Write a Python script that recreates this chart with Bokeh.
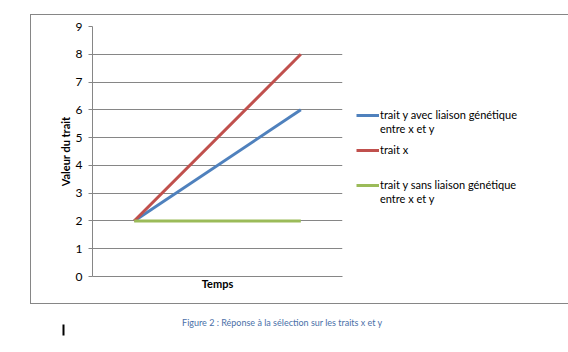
from bokeh.plotting import figure
from bokeh.models import (Range1d, FixedTicker, Legend, LegendItem, BoxAnnotation, Label, Spacer)
from bokeh.layouts import column, row
from bokeh.embed import file_html
from bokeh.resources import INLINE

# Data
temps = [1, 2]
trait_y_avec = [2, 6]
trait_x = [2, 8]
trait_y_sans = [2, 2]
y_ticks = [0, 1, 2, 3, 4, 5, 6, 7, 8, 9]
labels = ["trait y avec liaison génétique", "entre x et y", "trait x",
          "trait y sans liaison génétique", "entre x et y"]
colors = ["#4F81BD", "#C0504D", "#9BBB59"]
caption = "Figure 2 : Réponse à la sélection  sur les traits x et y"

FONT = "Lato"
GRAY = "#868686"

p = figure(frame_width=248, frame_height=248, output_backend="svg", toolbar_location=None,
           x_range=Range1d(0.75, 2.25), y_range=Range1d(0, 9),
           min_border_left=61, min_border_right=187, min_border_top=11, min_border_bottom=29,
           styles={"border": "1px solid " + GRAY})
p.outline_line_color = None
p.background_fill_color = "white"
p.border_fill_color = "white"

# Axes
p.xaxis.ticker = FixedTicker(ticks=[])
p.xaxis.major_label_text_font_size = "0px"
p.xaxis.axis_line_color = GRAY
p.xaxis.major_tick_line_color = None
p.xaxis.minor_tick_line_color = None
p.xaxis.axis_label = "Temps"
p.xaxis.axis_label_text_font = FONT
p.xaxis.axis_label_text_font_style = "bold"
p.xaxis.axis_label_text_font_size = "11px"
p.xaxis.axis_label_text_color = "#000000"
p.xaxis.axis_label_standoff = 0

p.yaxis.ticker = FixedTicker(ticks=y_ticks)
p.yaxis.axis_line_color = GRAY
p.yaxis.major_tick_line_color = GRAY
p.yaxis.major_tick_out = 4
p.yaxis.major_tick_in = 0
p.yaxis.minor_tick_line_color = None
p.yaxis.major_label_text_font = FONT
p.yaxis.major_label_text_font_size = "12px"
p.yaxis.major_label_text_color = "#000000"
p.yaxis.major_label_standoff = 6
p.yaxis.axis_label = "Valeur du trait"
p.yaxis.axis_label_text_font = FONT
p.yaxis.axis_label_text_font_style = "bold"
p.yaxis.axis_label_text_font_size = "11px"
p.yaxis.axis_label_text_color = "#000000"
p.yaxis.axis_label_standoff = 1

p.xgrid.grid_line_color = None
p.ygrid.grid_line_color = GRAY
p.ygrid.ticker = FixedTicker(ticks=y_ticks)

r1 = p.line(temps, trait_y_avec, line_color=colors[0], line_width=3)
r2 = p.line(temps, trait_x, line_color=colors[1], line_width=3)
r3 = p.line(temps, trait_y_sans, line_color=colors[2], line_width=3)
# invisible renderer used for continuation lines / gaps in the legend
blank = p.line([], [], line_alpha=0)

legend = Legend(items=[LegendItem(label=labels[0], renderers=[r1]),
                       LegendItem(label=labels[1], renderers=[blank]),
                       LegendItem(label="", renderers=[blank]),
                       LegendItem(label=labels[2], renderers=[r2]),
                       LegendItem(label="", renderers=[blank]),
                       LegendItem(label="", renderers=[blank]),
                       LegendItem(label="", renderers=[blank]),
                       LegendItem(label=labels[3], renderers=[r3]),
                       LegendItem(label=labels[4], renderers=[blank])],
                location=(14, 71))
legend.border_line_color = None
legend.background_fill_alpha = 0
legend.label_text_font = FONT
legend.label_text_font_size = "11px"
legend.label_text_color = "#000000"
legend.glyph_width = 23
legend.glyph_height = 6
legend.label_height = 6
legend.label_standoff = 1
legend.spacing = 1
legend.padding = 0
legend.margin = 0
p.add_layout(legend, "right")

# caption strip below the chart box
c = figure(width=568, height=48, output_backend="svg", toolbar_location=None,
           x_range=Range1d(0, 568), y_range=Range1d(0, 48),
           min_border=0, x_axis_type=None, y_axis_type=None)
c.outline_line_color = None
c.grid.visible = False
c.add_layout(BoxAnnotation(left=62, right=64, top=28, bottom=17,
                           fill_color="black", fill_alpha=1, line_color=None))
c.add_layout(Label(x=283, y=30, text=caption,
                   text_align="center", text_baseline="middle", text_font=FONT,
                   text_font_size="9px", text_color="#4A70A8"))

layout = column(Spacer(width=568, height=14), row(Spacer(width=30, height=288), p), c)
open("out.html", "w").write(file_html(layout, INLINE))
